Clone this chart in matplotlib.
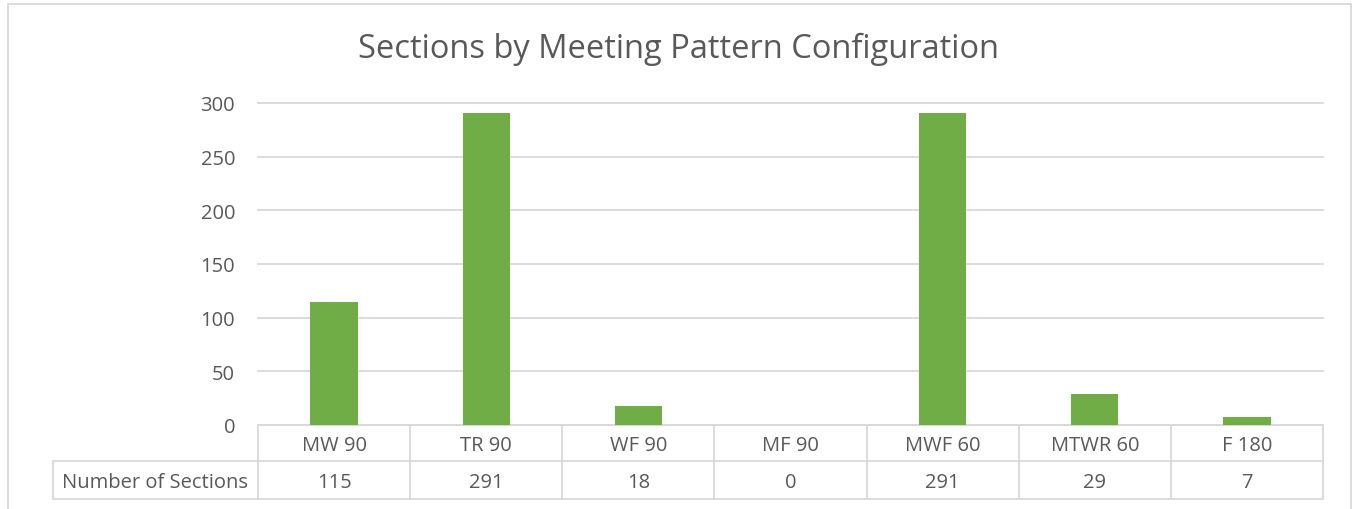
import matplotlib
matplotlib.use("Agg")
import matplotlib.pyplot as plt
from matplotlib.transforms import blended_transform_factory
from matplotlib.patches import Rectangle

categories = ["MW 90", "TR 90", "WF 90", "MF 90", "MWF 60", "MTWR 60", "F 180"]
values = [115, 291, 18, 0, 291, 29, 7]
series_name = "Number of Sections"
yticks = [0, 50, 100, 150, 200, 250, 300]
title = "Sections by Meeting Pattern Configuration"

plt.rcParams['font.family'] = ['Open Sans', 'DejaVu Sans']
TXT = '#595959'
GRID = '#d9d9d9'
BAR = '#70AD47'
FS = 14.5

W, H = 1353, 510
fig = plt.figure(figsize=(W / 100, H / 100), dpi=100)
fig.patch.set_facecolor('white')

x0, x1, y0, y1 = 258, 1323, 426, 104
ax = fig.add_axes([x0 / W, (H - y0) / H, (x1 - x0) / W, (y0 - y1) / H])
n = len(categories)
ax.bar(range(n), values, width=0.31, color=BAR, zorder=3)
ax.set_xlim(-0.5, n - 0.5)
ax.set_ylim(0, 300)
ax.set_yticks(yticks)
ax.set_xticks([])
ax.yaxis.grid(True, color=GRID, lw=1.3)
for gl in ax.get_ygridlines():
    gl.set_clip_on(False)
ax.set_axisbelow(True)
for s in ax.spines.values():
    s.set_visible(False)
ax.tick_params(axis='y', length=0, pad=16.5, labelsize=FS, labelcolor=TXT)

# data table below the axis
trans = blended_transform_factory(ax.transData, ax.transAxes)
ph = y0 - y1
r1 = -(462 - y0) / ph
r2 = -(500 - y0) / ph
dy = -2 / ph
colw = (x1 - x0) / n
xl = -0.5 - (x0 - 53) / colw
lk = dict(color=GRID, lw=1.3, transform=trans, clip_on=False)
ax.plot([-0.5, n - 0.5], [0, 0], **lk)
ax.plot([xl, n - 0.5], [r1, r1], **lk)
ax.plot([xl, n - 0.5], [r2, r2], **lk)
ax.plot([xl, xl], [r1, r2], **lk)
for k in range(n + 1):
    ax.plot([k - 0.5, k - 0.5], [0, r2], **lk)
for k, (c, v) in enumerate(zip(categories, values)):
    ax.text(k, r1 / 2 + dy, c, ha='center', va='center', fontsize=FS, color=TXT,
            transform=trans, clip_on=False)
    ax.text(k, (r1 + r2) / 2 + dy, str(v), ha='center', va='center', fontsize=FS,
            color=TXT, transform=trans, clip_on=False)
ax.text((xl - 0.5) / 2, (r1 + r2) / 2 + dy, series_name, ha='center', va='center',
        fontsize=FS, color=TXT, transform=trans, clip_on=False)

fig.text(678 / W, 1 - 49 / H, title, ha='center', va='center', fontsize=23.5, color=TXT)

fig.add_artist(Rectangle((8 / W, -0.1), (1351 - 8) / W, 1 - 5 / H + 0.1,
                         transform=fig.transFigure, fill=False, edgecolor=GRID, lw=1.3))

fig.savefig('out.png', dpi=100)
